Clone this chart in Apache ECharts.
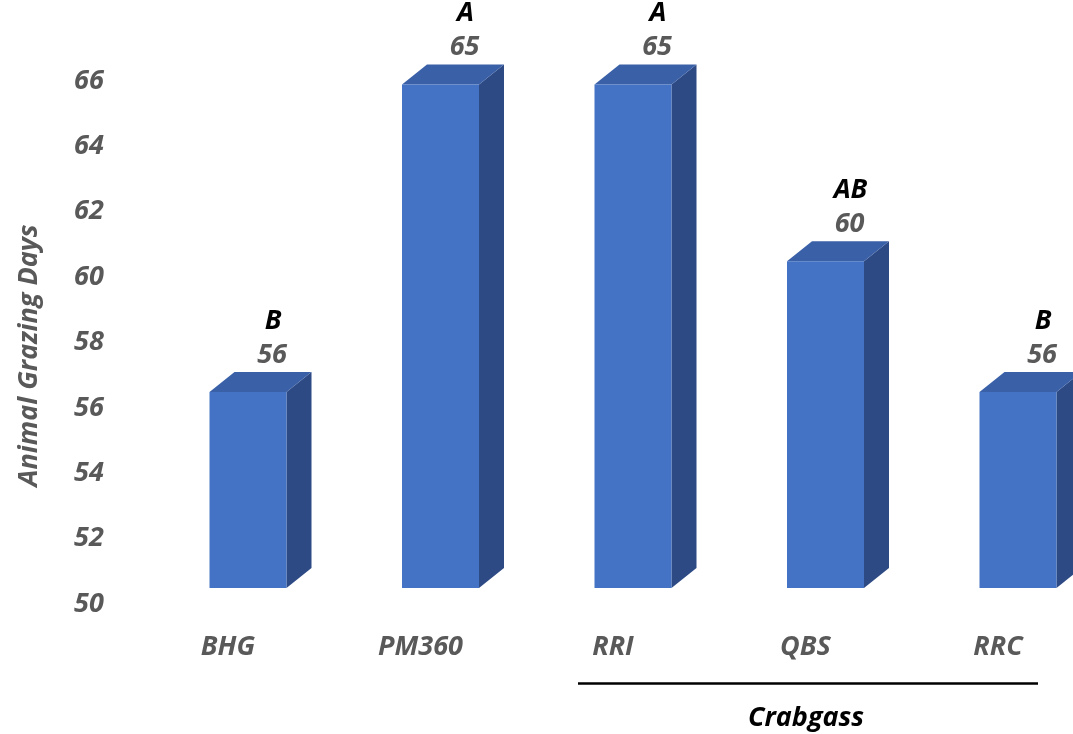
<!DOCTYPE html>
<html>
<head>
<meta charset="utf-8">
<script src="https://cdn.jsdelivr.net/npm/echarts@6/dist/echarts.min.js"></script>
<style>
html,body{margin:0;padding:0;background:#fff;}
#chart{width:1073px;height:734px;}
</style>
</head>
<body>
<div id="chart"></div>
<script>
const categories = ['BHG', 'PM360', 'RRI', 'QBS', 'RRC'];
const grazingDays = [56, 65.4, 65.4, 60, 56];
const groupLetters = ['B', 'A', 'A', 'AB', 'B'];
const yTicks = { min: 50, max: 66, interval: 2 };
const groupName = 'Crabgass';

const FONT = '"Open Sans", Lato, sans-serif';
const GRAY = '#595959';
const DX = 25, DY = 20, FRONT_SHIFT = 16;

const chart = echarts.init(document.getElementById('chart'));

const option = {
  animation: false,
  grid: { left: 151.75, top: 81, width: 962.5, height: 523, outerBoundsMode: 'none', containLabel: false },
  xAxis: {
    type: 'category',
    data: categories,
    axisLine: { show: false },
    axisTick: { show: false },
    axisLabel: {
      margin: 30,
      padding: [0, 40, 0, 0],
      color: GRAY,
      fontFamily: FONT,
      fontStyle: 'italic',
      fontWeight: 'bold',
      fontSize: 27
    }
  },
  yAxis: {
    type: 'value',
    min: yTicks.min,
    max: yTicks.max,
    interval: yTicks.interval,
    splitLine: { show: false },
    axisLine: { show: false },
    axisTick: { show: false },
    axisLabel: {
      margin: 48,
      color: GRAY,
      fontFamily: FONT,
      fontStyle: 'italic',
      fontWeight: 'bold',
      fontSize: 27
    },
    name: 'Animal Grazing Days',
    nameLocation: 'middle',
    nameRotate: 90,
    nameGap: 109,
    nameTextStyle: {
      color: GRAY,
      fontFamily: FONT,
      fontStyle: 'italic',
      fontWeight: 'bold',
      fontSize: 27,
      padding: [0, 0, 0, -26]
    }
  },
  series: [{
    type: 'custom',
    clip: false,
    data: grazingDays.map((v, i) => [i, v]),
    renderItem: function (params, api) {
      const i = api.value(0), v = api.value(1);
      const p = api.coord([i, v]);
      const b = api.coord([i, yTicks.min]);
      const w = api.size([1, 0])[0] * 0.4;
      const cx = p[0];
      const yt = p[1] - FRONT_SHIFT, yb = b[1] - FRONT_SHIFT;
      const l = cx - w / 2, r = cx + w / 2;
      return {
        type: 'group',
        children: [
          { type: 'polygon', shape: { points: [[r, yt], [r + DX, yt - DY], [r + DX, yb - DY], [r, yb]] },
            style: { fill: '#2D4A85' } },
          { type: 'polygon', shape: { points: [[l, yt], [l + DX, yt - DY], [r + DX, yt - DY], [r, yt]] },
            style: { fill: '#3A60A8' } },
          { type: 'rect', shape: { x: l, y: yt, width: w, height: yb - yt },
            style: { fill: '#4472C4' } },
          { type: 'text', x: cx + 24, y: p[1] - 53,
            style: { text: Math.round(v).toString(), fill: GRAY, font: 'italic bold 27px ' + FONT,
              align: 'center', verticalAlign: 'middle' } },
          { type: 'text', x: cx + 25, y: p[1] - 87,
            style: { text: groupLetters[i], fill: '#000', font: 'italic bold 27px ' + FONT,
              align: 'center', verticalAlign: 'middle' } }
        ]
      };
    }
  }],
  graphic: [
    { type: 'line', shape: { x1: 578, y1: 683.5, x2: 1038, y2: 683.5 },
      style: { stroke: '#000', lineWidth: 2.5 } },
    { type: 'text', x: 806, y: 718,
      style: { text: groupName, fill: '#000', font: 'italic bold 27px ' + FONT,
        align: 'center', verticalAlign: 'middle' } }
  ]
};
chart.setOption(option);
</script>
</body>
</html>
